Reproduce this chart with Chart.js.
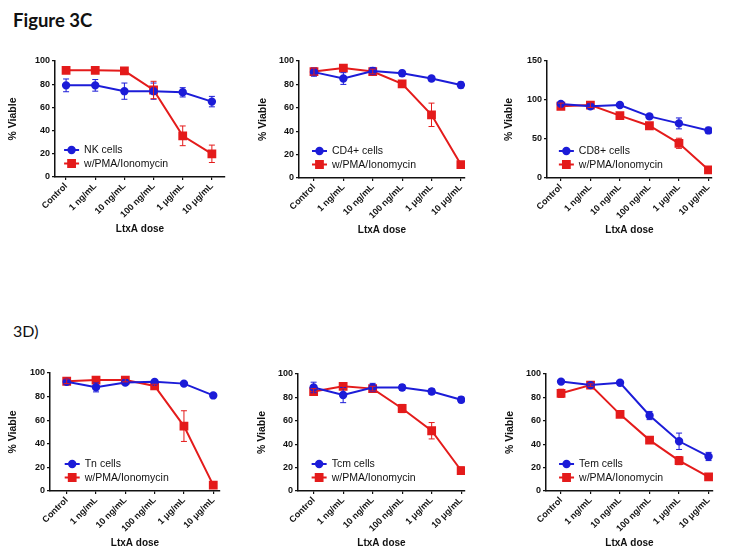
<!DOCTYPE html>
<html>
<head>
<meta charset="utf-8">
<script src="https://cdn.jsdelivr.net/npm/chart.js@4/dist/chart.umd.min.js"></script>
<style>
	body { margin: 0; background: #fff; }
	#page { position: relative; width: 737px; height: 556px; overflow: hidden; }
	#page canvas { position: absolute; left: 0; top: 0; }
	.label { position: absolute; color: #111; line-height: 1; font-family: Lato, 'Open Sans', sans-serif; }
	#figC { left: 13px; top: 11px; font-size: 18.5px; font-weight: bold; }
	#figD { left: 13px; top: 323px; font-size: 16px; }
</style>
</head>
<body>
<div id="page">
	<div class="label" id="figC">Figure 3C</div>
	<div class="label" id="figD">3D)</div>
</div>
<script>
const doses = ['Control', '1 ng/mL', '10 ng/mL', '100 ng/mL', '1 μg/mL', '10 μg/mL'];

const nkCells = [79, 79, 74, 74, 73, 65];
const nkCellsErr = [5.5, 5, 7, 7, 4, 4.5];
const nkPma = [92, 92, 91.5, 75, 35.5, 20];
const nkPmaErr = [1, 1, 1, 7.5, 8.5, 7.5];

const cd4Cells = [90.5, 85, 91.5, 89.5, 85, 79.5];
const cd4CellsErr = [3.5, 5, 3, 2.5, 2, 2.5];
const cd4Pma = [91, 94, 91, 80.5, 54, 11.5];
const cd4PmaErr = [3, 2, 2, 2.5, 10, 2];

const cd8Cells = [95, 92, 93.5, 79, 70, 61];
const cd8CellsErr = [2, 3, 1.5, 3, 7, 4];
const cd8Pma = [92, 93.5, 80, 67, 44.5, 10.5];
const cd8PmaErr = [4, 3, 2, 2, 6.5, 2];

const tnCells = [92.5, 88, 92, 92.5, 91, 81];
const tnCellsErr = [2, 4, 2, 1, 1, 1];
const tnPma = [93, 94, 94, 89, 55, 5];
const tnPmaErr = [2, 1.5, 1.5, 1.5, 13, 2];

const tcmCells = [88.5, 82, 88.5, 88.5, 85, 78];
const tcmCellsErr = [4.5, 6.5, 3.5, 2.5, 2.5, 2.5];
const tcmPma = [85, 89.5, 87.5, 70.5, 51.5, 17.5];
const tcmPmaErr = [2.5, 2, 2, 3.5, 7, 3];

const temCells = [93.5, 90.5, 92.5, 64.5, 42.5, 29.5];
const temCellsErr = [1, 1, 1, 3.5, 7, 3.5];
const temPma = [83.5, 90.5, 65.5, 43.5, 26, 12];
const temPmaErr = [3.5, 1, 1, 2, 3.5, 1];

const BLUE = '#1c1cd8';
const RED = '#e41b1b';
const INK = '#111';
const FONT = 'Arial, "Liberation Sans", sans-serif';
const W = 737, H = 556;
const X_AXIS_H = 62;

// plot boxes: left/right/top/bottom of the plot area, x range around the 6 doses, y axis box width
const panels = [
	{ name: 'NK cells', cells: nkCells, cellsErr: nkCellsErr, pma: nkPma, pmaErr: nkPmaErr, yMax: 100, yStep: 20, l: 55, r: 225, t: 61, b: 177, xMin: -0.38, xMax: 5.45, yw: 50 },
	{ name: 'CD4+ cells', cells: cd4Cells, cellsErr: cd4CellsErr, pma: cd4Pma, pmaErr: cd4PmaErr, yMax: 100, yStep: 20, l: 299, r: 465, t: 61, b: 178, xMin: -0.51, xMax: 5.14, yw: 44 },
	{ name: 'CD8+ cells', cells: cd8Cells, cellsErr: cd8CellsErr, pma: cd8Pma, pmaErr: cd8PmaErr, yMax: 150, yStep: 50, l: 547, r: 712, t: 61, b: 178, xMin: -0.47, xMax: 5.12, yw: 46 },
	{ name: 'Tn cells', cells: tnCells, cellsErr: tnCellsErr, pma: tnPma, pmaErr: tnPmaErr, yMax: 100, yStep: 20, l: 50, r: 220, t: 373, b: 491, xMin: -0.57, xMax: 5.23, yw: 45 },
	{ name: 'Tcm cells', cells: tcmCells, cellsErr: tcmCellsErr, pma: tcmPma, pmaErr: tcmPmaErr, yMax: 100, yStep: 20, l: 298, r: 465, t: 374, b: 491, xMin: -0.53, xMax: 5.13, yw: 44 },
	{ name: 'Tem cells', cells: temCells, cellsErr: temCellsErr, pma: temPma, pmaErr: temPmaErr, yMax: 100, yStep: 20, l: 546, r: 713, t: 374, b: 491, xMin: -0.51, xMax: 5.15, yw: 44 }
];

const errorBars = {
	id: 'errorBars',
	afterDatasetsDraw(chart) {
		const { ctx, scales: { x, y } } = chart;
		ctx.save();
		ctx.lineWidth = 1;
		chart.data.datasets.forEach(ds => {
			ctx.strokeStyle = ds.borderColor;
			ds.data.forEach((p, i) => {
				const e = ds.errors[i];
				const px = x.getPixelForValue(p.x);
				const top = y.getPixelForValue(p.y + e);
				const bot = y.getPixelForValue(p.y - e);
				ctx.beginPath();
				ctx.moveTo(px, top); ctx.lineTo(px, bot);
				ctx.moveTo(px - 3, top); ctx.lineTo(px + 3, top);
				ctx.moveTo(px - 3, bot); ctx.lineTo(px + 3, bot);
				ctx.stroke();
			});
		});
		ctx.restore();
	}
};

const insideLegend = {
	id: 'insideLegend',
	afterDraw(chart) {
		const { ctx, chartArea, scales: { x } } = chart;
		const x0 = x.getPixelForValue(0) - 2;
		ctx.save();
		ctx.font = '10.5px ' + FONT;
		ctx.textBaseline = 'middle';
		chart.data.datasets.forEach((ds, i) => {
			const yy = chartArea.bottom - 27 + i * 13.5;
			ctx.strokeStyle = ds.borderColor;
			ctx.fillStyle = ds.borderColor;
			ctx.lineWidth = 2;
			ctx.beginPath();
			ctx.moveTo(x0, yy); ctx.lineTo(x0 + 15, yy);
			ctx.stroke();
			Chart.helpers.drawPoint(ctx, { pointStyle: ds.pointStyle, radius: ds.pointRadius, borderWidth: 1 }, x0 + 7.5, yy);
			ctx.fillStyle = INK;
			ctx.fillText(ds.label, x0 + 20, yy + 0.5);
		});
		ctx.restore();
	}
};

function drawPanel(p) {
	const canvas = document.createElement('canvas');
	canvas.width = W;
	canvas.height = H;
	document.getElementById('page').appendChild(canvas);
	const series = (vals) => vals.map((v, i) => ({ x: i, y: v }));
	new Chart(canvas, {
		type: 'line',
		data: {
			datasets: [{
				label: p.name,
				data: series(p.cells),
				errors: p.cellsErr,
				borderColor: BLUE,
				backgroundColor: BLUE,
				pointStyle: 'circle',
				pointRadius: 3.2,
				borderWidth: 2
			}, {
				label: 'w/PMA/Ionomycin',
				data: series(p.pma),
				errors: p.pmaErr,
				borderColor: RED,
				backgroundColor: RED,
				pointStyle: 'rect',
				pointRadius: 4.8,
				borderWidth: 2
			}]
		},
		options: {
			responsive: false,
			animation: false,
			events: [],
			layout: {
				padding: { left: p.l - p.yw, right: W - p.r, top: p.t, bottom: H - p.b - X_AXIS_H }
			},
			plugins: { legend: { display: false }, tooltip: { enabled: false } },
			scales: {
				x: {
					type: 'linear',
					min: p.xMin,
					max: p.xMax,
					afterBuildTicks: s => { s.ticks = doses.map((d, i) => ({ value: i })); },
					afterFit: s => { s.height = X_AXIS_H; },
					grid: { drawOnChartArea: false, drawTicks: true, tickLength: 3, color: INK, lineWidth: 1.2 },
					border: { color: INK, width: 1.5 },
					ticks: {
						callback: v => doses[v],
						minRotation: 45,
						maxRotation: 45,
						padding: 1,
						color: INK,
						font: { family: FONT, size: 9, weight: 'bold' }
					},
					title: {
						display: true,
						text: 'LtxA dose',
						color: INK,
						font: { family: FONT, size: 10, weight: 'bold' }
					}
				},
				y: {
					min: 0,
					max: p.yMax,
					afterFit: s => { s.width = p.yw; },
					grid: { drawOnChartArea: false, drawTicks: true, tickLength: 3, color: INK, lineWidth: 1.2 },
					border: { color: INK, width: 1.5 },
					ticks: {
						stepSize: p.yStep,
						padding: 2,
						color: INK,
						font: { family: FONT, size: 9, weight: 'bold' }
					},
					title: {
						display: true,
						text: '% Viable',
						color: INK,
						padding: { top: 2, bottom: 4 },
						font: { family: FONT, size: 10.5, weight: 'bold' }
					}
				}
			}
		},
		plugins: [errorBars, insideLegend]
	});
}

panels.forEach(drawPanel);
</script>
</body>
</html>
